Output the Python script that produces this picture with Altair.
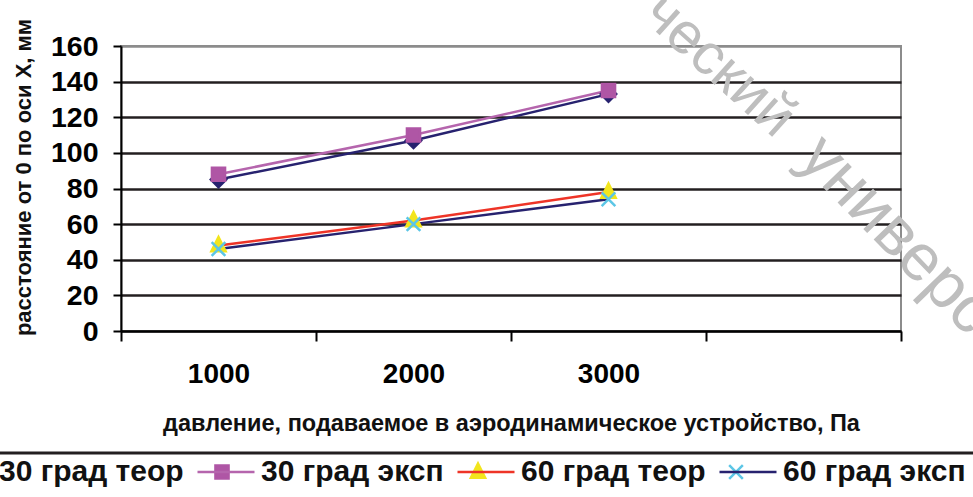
import altair as alt
import pandas as pd

# ---------------- data ----------------
pressure = ["1000", "2000", "3000"]
x_domain = pressure + [" "]
series_names = ["30 град теор", "30 град эксп", "60 град теор", "60 град эксп"]
theor_30 = [85, 107, 133]
exp_30 = [88, 110, 135]
theor_60 = [48, 62, 78]
exp_60 = [46, 60, 74]
y_ticks = [0, 20, 40, 60, 80, 100, 120, 140, 160]

x_title = "давление, подаваемое в аэродинамическое устройство, Па"
y_title = "расстояние от 0 по оси X,  мм"
watermark_a = "ческий"
watermark_b = "универс"

# ---------------- styles ----------------
line_colors = ["#27226F", "#B565AD", "#EE3427", "#27226F"]
marker_fill = ["#27226F", "#AF56A5", "#F2E51D", "#5CC6E6"]
marker_stroke = ["#27226F", "#AF56A5", "#F2E51D", "#5CC6E6"]
marker_paths = [
    "M0,-0.27L0.27,0L0,0.27L-0.27,0Z",
    "M-0.23,-0.23H0.23V0.23H-0.23Z",
    "M0,-0.3L0.25,0.2H-0.25Z",
    "M-0.24,-0.24L0.24,0.24M-0.24,0.24L0.24,-0.24",
]
FONT = "Liberation Sans"
SYM = 3249

rows = []
for name, vals in zip(series_names, [theor_30, exp_30, theor_60, exp_60]):
    for p, v in zip(pressure, vals):
        rows.append({"series": name, "marker": name, "pressure": p, "value": v})
df = pd.DataFrame(rows)

x_enc = alt.X(
    "pressure:O",
    sort=x_domain,
    scale=alt.Scale(type="band", domain=x_domain, paddingInner=0, paddingOuter=0),
    axis=alt.Axis(
        title=x_title,
        tickBand="extent",
        labelAngle=0,
        labelFont=FONT,
        labelFontWeight="bold",
        labelFontSize=28,
        labelColor="black",
        labelPadding=19,
        tickSize=10,
        tickColor="black",
        tickWidth=2,
        domainColor="black",
        domainWidth=2,
        grid=False,
        titleFont=FONT,
        titleFontWeight="bold",
        titleFontSize=23.5,
        titleColor="#111111",
        titleY=92,
        titleBaseline="middle",
    ),
)
y_enc = alt.Y(
    "value:Q",
    scale=alt.Scale(domain=[0, 160], nice=False),
    axis=alt.Axis(
        title=y_title,
        values=y_ticks,
        labelFont=FONT,
        labelFontWeight="bold",
        labelFontSize=28.5,
        labelColor="black",
        labelPadding=15,
        tickSize=8,
        tickColor="black",
        tickWidth=2,
        domainColor="black",
        domainWidth=2,
        grid=True,
        gridColor={"condition": {"test": "datum.value == 160", "value": "#8C8C8C"}, "value": "#231F20"},
        gridWidth=2.5,
        titleFont=FONT,
        titleFontWeight="bold",
        titleFontSize=22,
        titleColor="#111111",
        titleAngle=-90,
        titleX=-98,
        titleY=131,
        titleAlign="center",
        titleBaseline="middle",
    ),
)

legend_common = dict(
    orient="none",
    legendX=-187,
    legendY=396,
    direction="horizontal",
    title=None,
    labelFont=FONT,
    labelFontWeight="bold",
    labelFontSize=30,
    labelLimit=0,
    symbolSize=SYM,
    symbolStrokeWidth=2.5,
    labelOffset=5,
    columnPadding=8,
    padding=0,
)

lines = alt.Chart(df).mark_line(strokeWidth=2.5).encode(
    x=x_enc,
    y=y_enc,
    color=alt.Color(
        "series:N",
        scale=alt.Scale(domain=series_names, range=line_colors),
        legend=alt.Legend(symbolType="stroke", labelColor="#111111", **legend_common),
    ),
)

mleg = alt.Legend(labelColor="black", labelOpacity=0, **legend_common)
points = alt.Chart(df).mark_point(filled=True, size=SYM, opacity=1, strokeWidth=2.5).encode(
    x=x_enc,
    y=y_enc,
    shape=alt.Shape("marker:N", scale=alt.Scale(domain=series_names, range=marker_paths), legend=mleg),
    fill=alt.Fill("marker:N", scale=alt.Scale(domain=series_names, range=marker_fill), legend=mleg),
    stroke=alt.Stroke("marker:N", scale=alt.Scale(domain=series_names, range=marker_stroke), legend=mleg),
)

one = pd.DataFrame({"k": [0]})
legend_line = alt.Chart(one).mark_rule(color="#231F20", strokeWidth=3).encode(
    x=alt.value(-121), x2=alt.value(852), y=alt.value(407)
)
wm_a = alt.Chart(one).mark_text(
    font=FONT, fontSize=58, color="#BEBEBE", angle=42, align="center", baseline="middle"
).encode(x=alt.value(598), y=alt.value(20), text=alt.value(watermark_a))
wm_b = alt.Chart(one).mark_text(
    font=FONT, fontSize=66, color="#BEBEBE", angle=46, align="left", baseline="middle"
).encode(x=alt.value(690), y=alt.value(100), text=alt.value(watermark_b))

chart = (
    alt.layer(wm_a, wm_b, lines, points, legend_line)
    .resolve_scale(color="independent")
    .properties(
        width=780,
        height=285,
        autosize=alt.AutoSizeParams(type="none"),
        padding={"left": 121, "top": 46, "right": 72, "bottom": 166},
        background="white",
    )
    .configure_view(stroke="#8C8C8C", strokeWidth=2)
)

chart.save("out.html", embed_options={"renderer": "svg", "actions": False})
